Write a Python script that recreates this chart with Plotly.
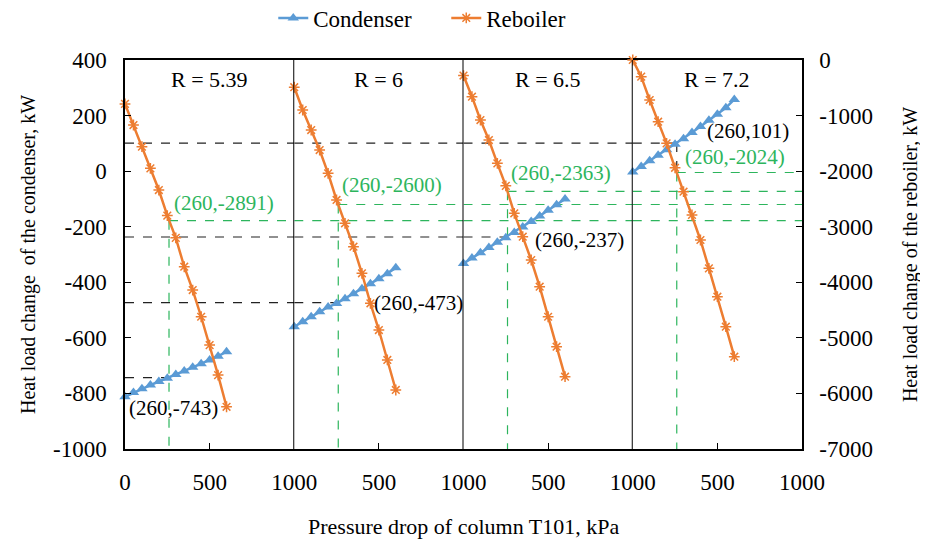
import plotly.graph_objects as go

# ---------------- data ----------------
PRESSURE = [0, 50, 100, 150, 200, 250, 300, 350, 400, 450, 500, 550, 600]
R_LABELS = ["R = 5.39", "R = 6", "R = 6.5", "R = 7.2"]

CONDENSER_R539 = [-812, -797, -783, -770, -757, -745, -732, -719, -706, -693, -680, -666, -650]
CONDENSER_R6 = [-560, -542, -524, -506, -489, -476, -459, -441, -423, -405, -387, -369, -348]
CONDENSER_R65 = [-332, -313, -294, -275, -256, -240, -221, -201, -181, -161, -141, -121, -100]
CONDENSER_R72 = [-3, 17, 37, 57, 77, 97, 117, 139, 161, 183, 205, 228, 258]

REBOILER_R539 = [-790, -1170, -1560, -1950, -2340, -2800, -3200, -3720, -4140, -4620, -5130, -5670, -6240]
REBOILER_R6 = [-490, -900, -1260, -1620, -2040, -2519, -2939, -3360, -3838, -4378, -4859, -5398, -5938]
REBOILER_R65 = [-280, -660, -1080, -1440, -1860, -2265, -2759, -3180, -3599, -4080, -4620, -5159, -5699]
REBOILER_R72 = [0, -300, -720, -1110, -1500, -1940, -2370, -2789, -3239, -3749, -4259, -4799, -5339]

CONDENSER = [CONDENSER_R539, CONDENSER_R6, CONDENSER_R65, CONDENSER_R72]
REBOILER = [REBOILER_R539, REBOILER_R6, REBOILER_R65, REBOILER_R72]

MARK_X = 260
COND_AT_MARK = [-743, -473, -237, 101]
REB_AT_MARK = [-2891, -2600, -2363, -2024]

X_TICKS_FIRST = [0, 500, 1000]
X_TICKS_OTHER = [500, 1000]
LEFT_TICKS = [400, 200, 0, -200, -400, -600, -800, -1000]
RIGHT_TICKS = [0, -1000, -2000, -3000, -4000, -5000, -6000, -7000]
LEFT_RANGE = [-1000, 400]
RIGHT_RANGE = [-7000, 0]

# ---------------- style ----------------
BLUE = "#5B9BD5"
ORANGE = "#ED7D31"
GREEN = "#2DB55D"
FONT = "Liberation Serif"
N = 4
TICK_SIZE = 23


def xname(i):
    return "x" if i == 0 else f"x{i+1}"


def xkey(i):
    return "xaxis" if i == 0 else f"xaxis{i+1}"


def right_to_left(v):
    # express a reboiler (right axis) value in condenser (left axis) units
    return LEFT_RANGE[0] + (v - RIGHT_RANGE[0]) * (LEFT_RANGE[1] - LEFT_RANGE[0]) / (RIGHT_RANGE[1] - RIGHT_RANGE[0])


fig = go.Figure()

for i in range(N):
    fig.add_trace(go.Scatter(
        x=PRESSURE, y=CONDENSER[i], xaxis=xname(i), yaxis="y",
        mode="lines+markers", name="Condenser", legendgroup="c",
        showlegend=(i == 0), cliponaxis=False,
        line=dict(color=BLUE, width=2.5),
        marker=dict(symbol="triangle-up", size=10, color=BLUE),
    ))
    fig.add_trace(go.Scatter(
        x=PRESSURE, y=REBOILER[i], xaxis=xname(i), yaxis="y2",
        mode="lines+markers", name="Reboiler", legendgroup="r",
        showlegend=(i == 0), cliponaxis=False,
        line=dict(color=ORANGE, width=2.5),
        marker=dict(symbol="asterisk-open", size=9, color=ORANGE,
                    line=dict(color=ORANGE, width=1.5)),
    ))

shapes = []
dash_black = dict(color="#222222", width=1.2, dash="dash")
dash_green = dict(color=GREEN, width=1.2, dash="dash")

# vertical black dashed where the condenser point lies above the reboiler point
for i in range(N):
    reb_left = right_to_left(REB_AT_MARK[i])
    if COND_AT_MARK[i] > reb_left:
        shapes.append(dict(type="line", xref=xname(i), yref="y",
                           x0=MARK_X, x1=MARK_X, y0=COND_AT_MARK[i], y1=reb_left,
                           line=dash_black, layer="below"))
# vertical green dashed (reboiler point down to bottom)
for i in range(N):
    shapes.append(dict(type="line", xref=xname(i), yref="y2",
                       x0=MARK_X, x1=MARK_X, y0=REB_AT_MARK[i], y1=RIGHT_RANGE[0],
                       line=dash_green, layer="below"))
# horizontal black dashed: from left axis to the point
for i in range(N):
    for j in range(i + 1):
        x1 = MARK_X if j == i else 1000
        shapes.append(dict(type="line", xref=xname(j), yref="y",
                           x0=0, x1=x1, y0=COND_AT_MARK[i], y1=COND_AT_MARK[i],
                           line=dash_black, layer="below"))
# horizontal green dashed: from the point to the right axis
for i in range(N):
    for j in range(i, N):
        x0 = MARK_X if j == i else 0
        shapes.append(dict(type="line", xref=xname(j), yref="y2",
                           x0=x0, x1=1000, y0=REB_AT_MARK[i], y1=REB_AT_MARK[i],
                           line=dash_green, layer="below"))
# panel dividers
for i in range(N - 1):
    shapes.append(dict(type="line", xref=xname(i), yref="y domain",
                       x0=1000, x1=1000, y0=0, y1=1,
                       line=dict(color="black", width=2), layer="above"))

annotations = []
for i in range(N):
    annotations.append(dict(text=R_LABELS[i], xref=xname(i), yref="y",
                            x=500, y=330, showarrow=False,
                            font=dict(family=FONT, size=22, color="black")))

label_pos = [  # (panel, x, y, text, colour)
    (0, 279, -115, f"({MARK_X},{REB_AT_MARK[0]})", GREEN),
    (0, 12, -852, f"({MARK_X},{COND_AT_MARK[0]})", "black"),
    (1, 273, -50, f"({MARK_X},{REB_AT_MARK[1]})", GREEN),
    (1, 457, -474, f"({MARK_X},{COND_AT_MARK[1]})", "black"),
    (2, 267, -7, f"({MARK_X},{REB_AT_MARK[2]})", GREEN),
    (2, 409, -248, f"({MARK_X},{COND_AT_MARK[2]})", "black"),
    (3, 427, 145, f"({MARK_X},{COND_AT_MARK[3]})", "black"),
    (3, 297, 51, f"({MARK_X},{REB_AT_MARK[3]})", GREEN),
]
for p, x, y, t, c in label_pos:
    annotations.append(dict(text=t, xref=xname(p), yref="y", x=x, y=y,
                            xanchor="left", yanchor="middle", showarrow=False,
                            font=dict(family=FONT, size=21, color=c)))

annotations.append(dict(text="Pressure drop of column T101, kPa", xref="paper", yref="paper",
                        x=0.5, y=-0.2, xanchor="center", yanchor="middle", showarrow=False,
                        font=dict(family=FONT, size=22, color="black")))

layout = dict(
    width=928, height=540,
    margin=dict(l=117, r=134, t=52, b=99, autoexpand=False),
    plot_bgcolor="white", paper_bgcolor="white",
    font=dict(family=FONT, size=TICK_SIZE, color="black"),
    shapes=shapes, annotations=annotations,
    legend=dict(orientation="h", x=0.219, xanchor="left", y=1.108, yanchor="middle",
                entrywidth=128, entrywidthmode="pixels",
                font=dict(family=FONT, size=23), bgcolor="rgba(0,0,0,0)"),
    yaxis=dict(range=LEFT_RANGE, tickvals=LEFT_TICKS, ticktext=[str(v) for v in LEFT_TICKS],
               ticks="inside", ticklen=6,
               tickcolor="black", showline=True, linecolor="black", linewidth=1.5,
               showgrid=False, zeroline=False, anchor="x",
               ticklabelstandoff=12, tickfont=dict(family=FONT, size=TICK_SIZE),
               title=dict(text="Heat load change&nbsp; of the condenser, kW",
                          font=dict(family=FONT, size=20), standoff=12)),
    yaxis2=dict(range=RIGHT_RANGE, tickvals=RIGHT_TICKS, ticktext=[str(v) for v in RIGHT_TICKS],
                ticks="inside", ticklen=6,
                tickcolor="black", showline=True, linecolor="black", linewidth=1.5,
                showgrid=False, zeroline=False, overlaying="y", side="right",
                anchor="x4", ticklabelstandoff=11, tickfont=dict(family=FONT, size=TICK_SIZE),
                title=dict(text="Heat load change of the reboiler, kW",
                           font=dict(family=FONT, size=20), standoff=31)),
)

for i in range(N):
    tv = X_TICKS_FIRST if i == 0 else X_TICKS_OTHER
    layout[xkey(i)] = dict(range=[0, 1000], domain=[i / N, (i + 1) / N], anchor="y",
                           tickvals=tv, ticktext=[str(v) for v in tv],
                           ticks="inside", ticklen=6, tickcolor="black",
                           showline=True, mirror=True, linecolor="black", linewidth=1.5,
                           showgrid=False, zeroline=False, ticklabelstandoff=12,
                           tickfont=dict(family=FONT, size=TICK_SIZE))

fig.update_layout(**layout)
fig.write_html("out.html")
